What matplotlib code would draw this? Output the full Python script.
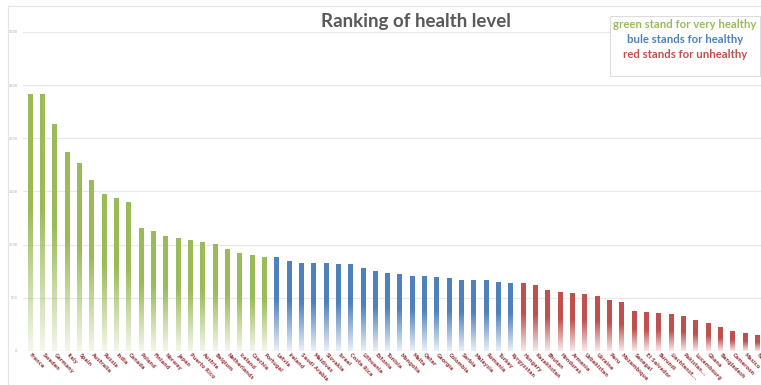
import matplotlib.pyplot as plt
import numpy as np
from matplotlib.colors import to_rgb
from matplotlib.patches import Rectangle

# data (bars sorted high -> low)
green_names = ["France", "Sweden", "Germany", "Italy", "Spain", "Australia", "Russia",
               "India", "Canada", "Poland", "Finland", "Norway", "Japan", "Puerto Rico",
               "Austria", "Belgium", "Netherlands", "Iceland", "Czechia", "Portugal"]
green_vals = [2415, 2415, 2130, 1870, 1765, 1605, 1470, 1435, 1395, 1150,
              1125, 1075, 1055, 1040, 1020, 1000, 955, 915, 895, 878]

blue_names = ["Latvia", "Ireland", "Saudi Arabia", "Maldives", "Slovakia", "Israel",
              "Costa Rica", "Lithuania", "Estonia", "Tunisia", "Mongolia", "Malta",
              "Qatar", "Georgia", "Colombia", "Serbia", "Malaysia", "Romania", "Turkey",
              "Kyrgyzstan"]
blue_vals = [877, 840, 822, 821, 820, 811, 810, 774, 745, 726,
             717, 698, 697, 689, 679, 661, 660, 659, 642, 632]

red_names = ["Hungary", "Kazakhstan", "Bhutan", "Honduras", "Armenia", "Uzbekistan",
             "Ukraine", "Peru", "Mozambique", "Senegal", "El Salvador", "Burundi",
             "Liechtenst...", "Pakistan...", "Luxembourg", "Ghana", "Bangladesh",
             "Cameroon", "Mexico", "Nepal"]
red_vals = [632, 613, 566, 547, 538, 528, 509, 472, 453, 368,
            358, 357, 340, 321, 283, 255, 217, 179, 160, 142]

yticks = [0, 500, 1000, 1500, 2000, 2500, 3000]

GREEN = "#9bbb59"
BLUE = "#4f81bd"
RED = "#c0504d"

names = green_names + blue_names + red_names
vals = green_vals + blue_vals + red_vals
colors = [GREEN] * len(green_vals) + [BLUE] * len(blue_vals) + [RED] * len(red_vals)
x = np.arange(len(vals))

fig = plt.figure(figsize=(7.61, 3.85), dpi=100)
fig.patch.set_facecolor("white")

# light frame of the chart area
fig.patches.append(Rectangle((8 / 761, -0.1), 1.0, 1 - 6 / 385 + 0.1, transform=fig.transFigure,
                             fill=False, edgecolor="#e4e4e4", lw=0.8))

ax = fig.add_axes([23 / 761, 1 - 351 / 385, 738 / 761, 319 / 385])
bars = ax.bar(x, vals, width=0.38, color="none", zorder=3)

# fade each bar to white at the bottom, like the gradient fill in the original
t = np.linspace(0, 1, 120)
alpha = np.clip(0.12 + t / 0.55 * 0.88, 0, 1)
for rect, c in zip(bars, colors):
    img = np.zeros((len(t), 1, 4))
    img[..., :3] = to_rgb(c)
    img[:, 0, 3] = alpha
    ax.imshow(img, extent=[rect.get_x(), rect.get_x() + rect.get_width(), 0, rect.get_height()],
              origin="lower", aspect="auto", interpolation="bilinear", zorder=3)

ax.set_xlim(-0.57, 59.3)
ax.set_ylim(0, 3000)
ax.set_yticks(yticks)
ax.set_yticklabels([str(v) for v in yticks], fontsize=2.5, color="#aaaaaa")
ax.yaxis.grid(True, color="#e8e8e8", lw=0.8, zorder=0)
ax.tick_params(axis="y", length=0, pad=4)
ax.tick_params(axis="x", length=0, pad=2)
for s in ax.spines.values():
    s.set_visible(False)
ax.axhline(0, color="#dddddd", lw=0.8, zorder=1)

ax.set_xticks(x)
ax.set_xticklabels(names, rotation=-45, rotation_mode="anchor", ha="left", va="center",
                   fontsize=3.7, color="#a0454a", fontweight="bold")

fig.text(416 / 761, 1 - 22 / 385, "Ranking of health level", ha="center", va="center",
         fontsize=13.5, fontweight="bold", color="#595959", family="Lato")

# little explanation box on the right
fig.patches.append(Rectangle((610 / 761, 1 - 76 / 385), 150 / 761, 60 / 385,
                             transform=fig.transFigure, facecolor="white",
                             edgecolor="#dcdcdc", lw=0.8))
legend_lines = [("green stand for very healthy", GREEN),
                ("bule stands for healthy", BLUE),
                ("red stands for unhealthy", RED)]
for i, (txt, c) in enumerate(legend_lines):
    fig.text(685 / 761, 1 - (25 + 14.5 * i) / 385, txt, ha="center", va="center",
             fontsize=8.2, fontweight="bold", color=c, family="Lato")

fig.savefig("out.png", dpi=100)
